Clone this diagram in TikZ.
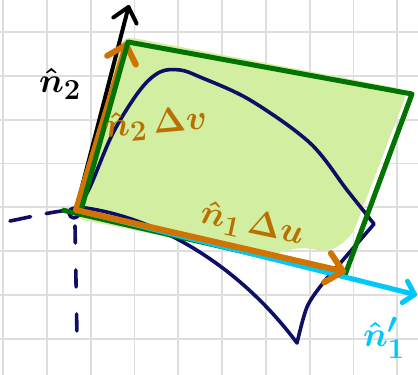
\documentclass[tikz,border=0pt]{standalone}
\usepackage{graphicx}
\usepackage{amsmath,bm}
\usetikzlibrary{arrows.meta}
\definecolor{navy}{RGB}{14,14,100}
\definecolor{dkgreen}{RGB}{0,115,0}
\definecolor{fillgreen}{RGB}{210,238,160}
\definecolor{orng}{RGB}{208,115,0}
\definecolor{orngtxt}{RGB}{185,112,0}
\definecolor{cyanline}{RGB}{0,200,250}
\definecolor{gridgray}{RGB}{222,222,222}
\newcommand{\biglbl}[1]{\scalebox{1.4}{\Huge\boldmath #1}}
\tikzset{
  gridline/.style={draw=gridgray, line width=1.8pt},
  navyline/.style={draw=navy, line width=3.6pt, line cap=round, line join=round},
  navydash/.style={draw=navy, line width=3.6pt, line cap=round},
  greenline/.style={draw=dkgreen, line width=5pt, line join=round},
  blackarrow/.style={draw=black, line width=4pt, line cap=round, -{Straight Barb[length=14pt,width=24pt,round]}},
  orangearrow/.style={draw=orng, line width=6pt, line cap=round, -{Straight Barb[length=16pt,width=30pt,round]}},
  cyanarrow/.style={draw=cyanline, line width=5pt, line cap=round, -{Straight Barb[length=10pt,width=22pt,round]}},
  lbl/.style={inner sep=0pt},
}
\begin{document}
\begin{tikzpicture}[x=1pt,y=-1pt]
\useasboundingbox (0,0) rectangle (418,375);
\fill[white] (0,0) rectangle (418,375);
% grid
\foreach \i in {0,...,9} \draw[gridline] ({3+43.8*\i},0) -- ({3+43.8*\i},375);
\foreach \j in {0,...,7} \draw[gridline] (0,{32+43.8*\j}) -- (418,{32+43.8*\j});
% corners
\coordinate (O) at (76,210);
\coordinate (G1) at (80,214);
\coordinate (G2) at (128,42);
\coordinate (G3) at (412,94);
\coordinate (G4) at (345,275);
\coordinate (Gs) at (62,210);
\coordinate (Btip) at (129,5);
\coordinate (Otip2) at (127,42);
\coordinate (Otip1) at (346,272);
\coordinate (Ctip) at (417,295);
% fill
\fill[fillgreen, rounded corners=10pt] (74,218) -- (123,36) -- (408,90) -- (352,236) -- (330,252) -- (300,247) -- (265,257) -- cycle;
% deformed region
\draw[navyline] plot[smooth, tension=0.55] coordinates {(78,207) (90,187) (113,133) (140,90) (160,72) (180,70) (200,77) (250,100) (310,143) (347,190) (374,224)}
  -- plot[smooth, tension=0.5] coordinates {(374,224) (343,260) (323,283) (307,307) (297,343)}
  .. controls (235,260) and (150,215) .. (78,207);
\draw[navyline] (74,213) circle (5);
% dashed axes
\draw[navydash, dash pattern=on 21pt off 16pt] (10,221) .. controls (30,217) and (50,212) .. (70,210);
\draw[navydash, dash pattern=on 17pt off 27pt] (75,226) -- (77,337);
% black axis arrow
\draw[blackarrow] (O) -- (Btip);
% orange left arrow
\draw[orangearrow] (O) -- (Otip2);
% green parallelogram
\draw[greenline] (G1) -- (G2) -- (G3) -- (G4);
\draw[greenline] (Gs) -- (G4);
% cyan arrow
\draw[cyanarrow] (O) -- (Ctip);
% orange bottom arrow
\draw[orangearrow] (O) -- (Otip1);
% labels
\node[lbl, text=black] (n2) at (60,84) {\biglbl{$\hat{n}_2$}};
\node[lbl, text=orngtxt, rotate=5] (n2dv) at (156,124) {\biglbl{$\hat{n}_2\,\Delta v$}};
\node[lbl, text=orngtxt, rotate=-12] (n1du) at (252,225) {\biglbl{$\hat{n}_1\,\Delta u$}};
\node[lbl, text=cyanline] (n1p) at (384,338) {\biglbl{$\hat{n}'_1$}};
\end{tikzpicture}
\end{document}
